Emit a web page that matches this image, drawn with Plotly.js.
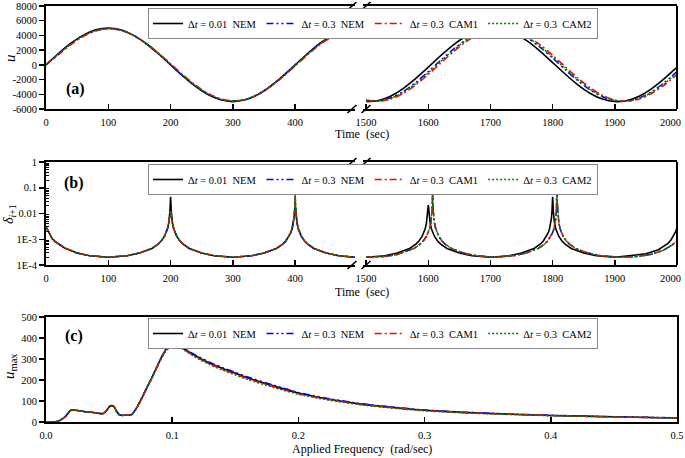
<!DOCTYPE html>
<html><head><meta charset="utf-8">
<script src="https://cdn.plot.ly/plotly-3.0.1.min.js"></script>
<style>html,body{margin:0;padding:0;background:#fff}#chart{width:685px;height:458px}</style>
</head><body><div id="chart"></div>
<script>
// ---------- series labels ----------
const seriesNames = [
  'Δ<i>t</i> = 0.01\u00A0\u00A0NEM',
  'Δ<i>t</i> = 0.3\u00A0\u00A0NEM',
  'Δ<i>t</i> = 0.3\u00A0\u00A0CAM1',
  'Δ<i>t</i> = 0.3\u00A0\u00A0CAM2'
];

// ---------- panel (a): displacement u ----------
const tA_left = [0,20,40,60,80,100,120,140,160,180,200,220,240,260,280,300,320,340,360,380,400,420,440,460,480,496];
const uA_left_k = [0,1545,2939,4045,4755,5000,4755,4045,2939,1545,0,-1545,-2939,-4045,-4755,-5000,-4755,-4045,-2939,-1545,0,1545,2939,4045,4755,4990];
const uA_left_b = [0,1530,2910,4005,4708,4950,4708,4005,2910,1530,0,-1530,-2910,-4005,-4708,-4950,-4708,-4005,-2910,-1530,0,1530,2910,4005,4708,4940];
const uA_left_r = [0,1367,2754,3872,4610,4898,4705,4053,3003,1660,154,-1367,-2754,-3872,-4610,-4898,-4705,-4053,-3003,-1660,-154,1367,2754,3872,4610,4878];
const uA_left_g = [0,1446,2829,3935,4655,4920,4703,4025,2954,1594,77,-1446,-2829,-3935,-4655,-4920,-4703,-4025,-2954,-1594,-77,1446,2829,3935,4655,4905];

const tA_right = [1500,1520,1540,1560,1580,1600,1620,1640,1660,1680,1700,1720,1740,1760,1780,1800,1820,1840,1860,1880,1900,1920,1940,1960,1980,2000];
const uA_right_k = [-4990,-4843,-4222,-3187,-1841,-314,1243,2679,3852,4649,4990,4843,4222,3187,1841,314,-1243,-2679,-3852,-4649,-4990,-4843,-4222,-3187,-1841,-314];
const uA_right_b = [-4862,-4911,-4479,-3609,-2385,-928,620,2108,3388,4338,4862,4911,4479,3609,2385,928,-620,-2108,-3388,-4338,-4862,-4911,-4479,-3609,-2385,-928];
const uA_right_r = [-4775,-4945,-4630,-3863,-2718,-1306,233,1750,3095,4137,4775,4945,4630,3863,2718,1306,-233,-1750,-3095,-4137,-4775,-4945,-4630,-3863,-2718,-1306];
const uA_right_g = [-4831,-4928,-4543,-3713,-2520,-1080,466,1966,3273,4260,4831,4928,4543,3713,2520,1080,-466,-1966,-3273,-4260,-4831,-4928,-4543,-3713,-2520,-1080];

// ---------- panel (b): relative change delta ----------
const tB_left = [0,2,5,10,15,20,30,50,70,100,130,150,170,180,185,190,193,195,197,198,199,199.5,200,200.5,201,202,203,205,207,210,215,220,230,250,270,300,330,350,370,380,385,390,393,395,397,398,399,399.5,400,400.5,401,402,403,405,407,410,415,420,430,450,470,496];
const dB_left_k = [3.0e-3,2.4e-3,1.6e-3,1.05e-3,8.0e-4,6.6e-4,4.6e-4,2.9e-4,2.3e-4,2.0e-4,
  2.3e-4,2.9e-4,4.4e-4,6.5e-4,8.6e-4,1.28e-3,1.8e-3,2.55e-3,4.2e-3,6.4e-3,
  1.27e-2,2.5e-2,4.5e-2,2.5e-2,1.27e-2,6.4e-3,4.2e-3,2.55e-3,1.8e-3,1.28e-3,
  8.6e-4,6.5e-4,4.4e-4,2.9e-4,2.3e-4,2.0e-4,2.3e-4,2.9e-4,4.4e-4,6.5e-4,
  8.6e-4,1.28e-3,1.8e-3,2.55e-3,4.2e-3,6.4e-3,1.2e-2,1.6e-2,1.9e-2,1.6e-2,
  1.2e-2,6.4e-3,4.2e-3,2.55e-3,1.8e-3,1.28e-3,8.6e-4,6.5e-4,4.4e-4,2.9e-4,
  2.3e-4,2.0e-4];
const dB_left_b = [3.0e-3,2.4e-3,1.6e-3,1.05e-3,8.0e-4,6.6e-4,4.6e-4,2.9e-4,2.3e-4,2.0e-4,
  2.3e-4,2.9e-4,4.4e-4,6.5e-4,8.6e-4,1.28e-3,1.8e-3,2.55e-3,4.2e-3,6.4e-3,
  8.0e-3,1.0e-2,1.1e-2,1.0e-2,8.0e-3,6.4e-3,4.2e-3,2.55e-3,1.8e-3,1.28e-3,
  8.6e-4,6.5e-4,4.4e-4,2.9e-4,2.3e-4,2.0e-4,2.3e-4,2.9e-4,4.4e-4,6.5e-4,
  8.6e-4,1.28e-3,1.8e-3,2.55e-3,4.2e-3,6.4e-3,1.27e-2,2.5e-2,4.0e-2,2.5e-2,
  1.27e-2,6.4e-3,4.2e-3,2.55e-3,1.8e-3,1.28e-3,8.6e-4,6.5e-4,4.4e-4,2.9e-4,
  2.3e-4,2.0e-4];
const dB_left_r = [3.0e-3,2.4e-3,1.6e-3,1.05e-3,8.0e-4,6.6e-4,4.6e-4,2.9e-4,2.3e-4,2.0e-4,
  2.3e-4,2.9e-4,4.4e-4,6.5e-4,8.6e-4,1.28e-3,1.8e-3,2.55e-3,4.2e-3,6.4e-3,
  8.0e-3,1.0e-2,1.4e-2,1.0e-2,8.0e-3,6.4e-3,4.2e-3,2.55e-3,1.8e-3,1.28e-3,
  8.6e-4,6.5e-4,4.4e-4,2.9e-4,2.3e-4,2.0e-4,2.3e-4,2.9e-4,4.4e-4,6.5e-4,
  8.6e-4,1.28e-3,1.8e-3,2.55e-3,4.2e-3,6.4e-3,1.27e-2,2.5e-2,5.5e-2,2.5e-2,
  1.27e-2,6.4e-3,4.2e-3,2.55e-3,1.8e-3,1.28e-3,8.6e-4,6.5e-4,4.4e-4,2.9e-4,
  2.3e-4,2.0e-4];
const dB_left_g = [3.0e-3,2.4e-3,1.6e-3,1.05e-3,8.0e-4,6.6e-4,4.6e-4,2.9e-4,2.3e-4,2.0e-4,
  2.3e-4,2.9e-4,4.4e-4,6.5e-4,8.6e-4,1.28e-3,1.8e-3,2.55e-3,4.2e-3,6.4e-3,
  8.0e-3,1.0e-2,1.3e-2,1.0e-2,8.0e-3,6.4e-3,4.2e-3,2.55e-3,1.8e-3,1.28e-3,
  8.6e-4,6.5e-4,4.4e-4,2.9e-4,2.3e-4,2.0e-4,2.3e-4,2.9e-4,4.4e-4,6.5e-4,
  8.6e-4,1.28e-3,1.8e-3,2.55e-3,4.2e-3,6.4e-3,1.27e-2,2.5e-2,6.0e-2,2.5e-2,
  1.27e-2,6.4e-3,4.2e-3,2.55e-3,1.8e-3,1.28e-3,8.6e-4,6.5e-4,4.4e-4,2.9e-4,
  2.3e-4,2.0e-4];

const tB_right_k = [1500,1530,1550,1570,1580,1585,1590,1593,1595,1597,1598,1599,1599.5,1600,1600.5,1601,1602,1603,1605,1607,1610,1615,1620,1630,1650,1670,1700,1730,1750,1770,1780,1785,1790,1793,1795,1797,1798,1799,1799.5,1800,1800.5,1801,1802,1803,1805,1807,1810,1815,1820,1830,1850,1870,1900,1930,1950,1970,1980,1985,1990,1993,1995,1997,2000];
const dB_right_k = [2.0e-4,2.3e-4,2.9e-4,4.4e-4,6.5e-4,8.6e-4,1.28e-3,1.8e-3,2.55e-3,4.2e-3,
  6.4e-3,1.27e-2,1.8e-2,2.1e-2,1.8e-2,1.27e-2,6.4e-3,4.2e-3,2.55e-3,1.8e-3,
  1.28e-3,8.6e-4,6.5e-4,4.4e-4,2.9e-4,2.3e-4,2.0e-4,2.3e-4,2.9e-4,4.4e-4,
  6.5e-4,8.6e-4,1.28e-3,1.8e-3,2.55e-3,4.2e-3,6.4e-3,1.27e-2,2.5e-2,4.5e-2,
  2.5e-2,1.27e-2,6.4e-3,4.2e-3,2.55e-3,1.8e-3,1.28e-3,8.6e-4,6.5e-4,4.4e-4,
  2.9e-4,2.3e-4,2.0e-4,2.4e-4,2.75e-4,3.9e-4,5.5e-4,6.8e-4,9.2e-4,1.17e-3,
  1.42e-3,1.8e-3,2.7e-3];

const tB_right_3 = [1500,1530,1550,1570,1577,1587,1592,1597,1600,1602,1604,1605,1606,1606.5,1607,1607.5,1608,1609,1610,1612,1614,1617,1622,1627,1637,1657,1677,1707,1737,1757,1777,1787,1792,1797,1800,1802,1804,1805,1806,1806.5,1807,1807.5,1808,1809,1810,1812,1814,1817,1822,1827,1837,1857,1877,1907,1937,1957,1977,1987,1992,1997,2000];
const dB_right_b = [2.0e-4,2.14e-4,2.56e-4,3.64e-4,4.4e-4,6.5e-4,8.6e-4,1.28e-3,1.8e-3,2.55e-3,
  4.2e-3,6.4e-3,1.27e-2,2.5e-2,6.0e-2,2.5e-2,1.27e-2,6.4e-3,4.2e-3,2.55e-3,
  1.8e-3,1.28e-3,8.6e-4,6.5e-4,4.4e-4,2.9e-4,2.3e-4,2.0e-4,2.3e-4,2.9e-4,
  4.4e-4,6.5e-4,8.6e-4,1.28e-3,1.8e-3,2.55e-3,4.2e-3,6.4e-3,1.27e-2,2.5e-2,
  8.0e-2,2.5e-2,1.27e-2,6.4e-3,4.2e-3,2.55e-3,1.8e-3,1.28e-3,8.6e-4,6.5e-4,
  4.4e-4,2.9e-4,2.3e-4,2.0e-4,2.14e-4,2.56e-4,3.64e-4,4.86e-4,5.9e-4,7.6e-4,
  8.5e-4];
const dB_right_r = [2.0e-4,2.14e-4,2.56e-4,3.64e-4,4.4e-4,6.5e-4,8.6e-4,1.28e-3,1.8e-3,2.55e-3,
  4.2e-3,6.4e-3,1.27e-2,2.5e-2,1.8e-1,2.5e-2,1.27e-2,6.4e-3,4.2e-3,2.55e-3,
  1.8e-3,1.28e-3,8.6e-4,6.5e-4,4.4e-4,2.9e-4,2.3e-4,2.0e-4,2.3e-4,2.9e-4,
  4.4e-4,6.5e-4,8.6e-4,1.28e-3,1.8e-3,2.55e-3,4.2e-3,6.4e-3,1.27e-2,2.5e-2,
  1.5e-1,2.5e-2,1.27e-2,6.4e-3,4.2e-3,2.55e-3,1.8e-3,1.28e-3,8.6e-4,6.5e-4,
  4.4e-4,2.9e-4,2.3e-4,2.0e-4,2.14e-4,2.56e-4,3.64e-4,4.86e-4,5.9e-4,7.6e-4,
  8.5e-4];
const dB_right_g = [2.0e-4,2.14e-4,2.56e-4,3.64e-4,4.4e-4,6.5e-4,8.6e-4,1.28e-3,1.8e-3,2.55e-3,
  4.2e-3,6.4e-3,1.27e-2,2.5e-2,1.5e-1,2.5e-2,1.27e-2,6.4e-3,4.2e-3,2.55e-3,
  1.8e-3,1.28e-3,8.6e-4,6.5e-4,4.4e-4,2.9e-4,2.3e-4,2.0e-4,2.3e-4,2.9e-4,
  4.4e-4,6.5e-4,8.6e-4,1.28e-3,1.8e-3,2.55e-3,4.2e-3,6.4e-3,1.27e-2,2.5e-2,
  1.7e-1,2.5e-2,1.27e-2,6.4e-3,4.2e-3,2.55e-3,1.8e-3,1.28e-3,8.6e-4,6.5e-4,
  4.4e-4,2.9e-4,2.3e-4,2.0e-4,2.14e-4,2.56e-4,3.64e-4,4.86e-4,5.9e-4,7.6e-4,
  8.5e-4];

// ---------- panel (c): maximum response vs frequency ----------
const fC = [0,0.005,0.01,0.015,0.02,0.025,0.03,0.035,0.04,0.045,0.048,0.05,0.052,0.054,0.056,0.058,0.06,0.064,0.068,0.072,0.076,0.08,0.085,0.09,0.095,0.1,0.105,0.11,0.12,0.13,0.14,0.15,0.16,0.18,0.2,0.22,0.25,0.28,0.3,0.33,0.36,0.4,0.45,0.5];
const uC_k = [0,0,5,25,58,55,50,47,43,40,55,72,78,72,50,35,32,33,36,70,115,165,225,290,345,368,365,345,310,280,255,232,210,172,138,113,85,66,56,46,39,31,25,19];
const uC_b = [0,0,5,24,57,55,50,47,43,40,54,71,77,73,52,36,32,33,36,70,116,166,226,291,346,368,366,348,314,284,259,236,214,176,141,116,87,68,57,47,40,32,25,20];
const uC_r = [0,0,4,23,56,55,50,47,43,40,56,74,80,74,50,34,31,33,36,68,113,163,222,287,342,366,362,342,306,276,251,228,206,169,135,111,83,65,55,45,38,31,24,19];
const uC_g = [0,0,4,22,55,54,50,46,42,39,52,70,76,70,46,33,30,32,35,66,110,160,220,284,338,362,360,340,303,272,247,224,202,165,132,108,81,63,53,44,37,30,24,18];

// ---------- styling ----------
const FONT = "'Liberation Serif', 'Times New Roman', serif";
const lineStyles = [
  {color:'#000000', dash:'solid', width:1.6},
  {color:'#0000ff', dash:'7px,3px,2px,3px,2px,3px', width:1.5},
  {color:'#ff0000', dash:'7px,3px,2px,3px', width:1.5},
  {color:'#008000', dash:'2px,2px', width:1.5}
];
const W = 685, H = 458, ML = 46, MR = 8;
const PW = W - ML - MR;
const px = v => (v - ML) / PW;
const py = v => 1 - v / H;

const traces = [];
const aLeft = [uA_left_k, uA_left_b, uA_left_r, uA_left_g];
const aRight = [uA_right_k, uA_right_b, uA_right_r, uA_right_g];
const bLeft = [dB_left_k, dB_left_b, dB_left_r, dB_left_g];
const bRight = [dB_right_k, dB_right_b, dB_right_r, dB_right_g];
const bRightT = [tB_right_k, tB_right_3, tB_right_3, tB_right_3];
const cVals = [uC_k, uC_b, uC_r, uC_g];

for (let i = 0; i < 4; i++) {
  const ln = Object.assign({}, lineStyles[i]);
  traces.push({x:tA_left, y:aLeft[i], xaxis:'x', yaxis:'y', mode:'lines', line:Object.assign({shape:'spline', smoothing:0.8}, ln), name:seriesNames[i], legend:'legend', legendgroup:'a'+i, showlegend:true});
  traces.push({x:tA_right, y:aRight[i], xaxis:'x2', yaxis:'y', mode:'lines', line:Object.assign({shape:'spline', smoothing:0.8}, ln), name:seriesNames[i], legend:'legend', legendgroup:'a'+i, showlegend:false});
  traces.push({x:tB_left, y:bLeft[i], xaxis:'x3', yaxis:'y2', mode:'lines', line:ln, name:seriesNames[i], legend:'legend2', legendgroup:'b'+i, showlegend:true});
  traces.push({x:bRightT[i], y:bRight[i], xaxis:'x4', yaxis:'y2', mode:'lines', line:ln, name:seriesNames[i], legend:'legend2', legendgroup:'b'+i, showlegend:false});
  traces.push({x:fC, y:cVals[i], xaxis:'x5', yaxis:'y3', mode:'lines', line:Object.assign({shape:'spline', smoothing:0.5}, ln), name:seriesNames[i], legend:'legend3', legendgroup:'c'+i, showlegend:true});
}

const tickfont = {family:FONT, size:10.5, color:'#000'};
const baseAx = {showline:true, linewidth:2, linecolor:'#000', showgrid:false, zeroline:false,
  ticklen:5, tickwidth:1.5, tickcolor:'#000', tickfont:tickfont};
const leftDom = [0, px(355)], rightDom = [px(363), 1];
const domA = [py(109), py(6)], domB = [py(265), py(162)], domC = [py(422), py(317)];
const rightTicks = [1500,1600,1700,1800,1900,2000];
const rightTickText = ['1500','1600','1700','1800','1900',''];

const legendBase = {orientation:'h', xanchor:'left', yanchor:'top', bgcolor:'#fff', bordercolor:'#888', borderwidth:1,
  font:{family:FONT, size:10.5, color:'#000'}, itemwidth:30, tracegroupgap:0};

const shapes = [];
[6,109,162,265].forEach(yy => {
  [352,366].forEach(cx => {
    shapes.push({type:'line', xref:'paper', yref:'paper', x0:px(cx-4.5), x1:px(cx+4.5), y0:py(yy+4), y1:py(yy-4), line:{color:'#000', width:1.6}});
  });
});
shapes.push({type:'line', xref:'paper', yref:'paper', x0:1, x1:1, y0:domA[0], y1:domA[1], line:{color:'#000', width:2}});
shapes.push({type:'line', xref:'paper', yref:'paper', x0:1, x1:1, y0:domB[0], y1:domB[1], line:{color:'#000', width:2}});

const ann = (text, x, y, opts) => Object.assign({text:text, xref:'paper', yref:'paper', x:x, y:y, showarrow:false,
  xanchor:'center', yanchor:'middle', font:{family:FONT, size:12, color:'#000'}}, opts || {});

const layout = {
  width:W, height:H, margin:{l:ML, r:MR, t:0, b:0}, paper_bgcolor:'#fff', plot_bgcolor:'#fff', showlegend:true,
  font:{family:FONT, size:11, color:'#000'},
  xaxis: Object.assign({}, baseAx, {domain:leftDom, anchor:'y', range:[0,496], ticks:'inside', mirror:true, tickvals:[0,100,200,300,400], ticklabelstandoff:2}),
  xaxis2: Object.assign({}, baseAx, {domain:rightDom, anchor:'y', range:[1495,2000], ticks:'inside', mirror:true, tickvals:rightTicks, ticktext:rightTickText, ticklabelstandoff:2}),
  yaxis: Object.assign({}, baseAx, {domain:domA, anchor:'x', range:[-6000,8000], ticks:'outside', tickvals:[-6000,-4000,-2000,0,2000,4000,6000,8000], ticktext:['-6000','-4000','-2000','0','2000','4000','6000','8000']}),
  xaxis3: Object.assign({}, baseAx, {domain:leftDom, anchor:'y2', range:[0,496], ticks:'inside', mirror:true, tickvals:[0,100,200,300,400], ticklabelstandoff:2}),
  xaxis4: Object.assign({}, baseAx, {domain:rightDom, anchor:'y2', range:[1495,2000], ticks:'inside', mirror:true, tickvals:rightTicks, ticktext:rightTickText, ticklabelstandoff:2}),
  yaxis2: Object.assign({}, baseAx, {domain:domB, anchor:'x3', type:'log', range:[-4,0], ticks:'outside', tickvals:[1,0.1,0.01,0.001,0.0001], ticktext:['1','0.1','0.01','1E-3','1E-4'],
    minor:{ticks:'inside', ticklen:3, tickwidth:1, tickcolor:'#000', showgrid:false, tickmode:'array',
      tickvals:[2e-4,3e-4,4e-4,5e-4,6e-4,7e-4,8e-4,9e-4,2e-3,3e-3,4e-3,5e-3,6e-3,7e-3,8e-3,9e-3,0.02,0.03,0.04,0.05,0.06,0.07,0.08,0.09,0.2,0.3,0.4,0.5,0.6,0.7,0.8,0.9]}}),
  xaxis5: Object.assign({}, baseAx, {domain:[0,1], anchor:'y3', range:[0,0.5], ticks:'inside', mirror:true, tickvals:[0,0.1,0.2,0.3,0.4,0.5], ticktext:['0.0','0.1','0.2','0.3','0.4','0.5'], ticklabelstandoff:2, ticklabeloverflow:'allow'}),
  yaxis3: Object.assign({}, baseAx, {domain:domC, anchor:'x5', range:[0,500], ticks:'outside', mirror:true, tickvals:[0,100,200,300,400,500]}),
  legend: Object.assign({}, legendBase, {x:px(148), y:py(8)}),
  legend2: Object.assign({}, legendBase, {x:px(148), y:py(164)}),
  legend3: Object.assign({}, legendBase, {x:px(148), y:py(318)}),
  shapes: shapes,
  annotations: [
    ann('<b>(a)</b>', px(75), py(89), {font:{family:FONT, size:16, color:'#000'}}),
    ann('<b>(b)</b>', px(74), py(183), {font:{family:FONT, size:16, color:'#000'}}),
    ann('<b>(c)</b>', px(74), py(336), {font:{family:FONT, size:16, color:'#000'}}),
    ann('2000', px(683), py(122), {xanchor:'right', font:{family:FONT, size:10.5, color:'#000'}}),
    ann('2000', px(683), py(278), {xanchor:'right', font:{family:FONT, size:10.5, color:'#000'}}),
    ann('Time\u00A0\u00A0(sec)', 0.5, py(134)),
    ann('Time\u00A0\u00A0(sec)', 0.5, py(292)),
    ann('Applied Frequency\u00A0\u00A0(rad/sec)', 0.5, py(449)),
    ann('<i>u</i>', px(10), py(58), {textangle:-90, font:{family:FONT, size:15, color:'#000'}}),
    ann('<i>δ</i><sub><i>i</i>+1</sub>', px(9), py(214), {textangle:-90, font:{family:FONT, size:14, color:'#000'}}),
    ann('<i>u</i><sub>max</sub>', px(10), py(366), {textangle:-90, font:{family:FONT, size:15, color:'#000'}})
  ]
};

Plotly.newPlot('chart', traces, layout, {staticPlot:true, displayModeBar:false});
</script></body></html>
